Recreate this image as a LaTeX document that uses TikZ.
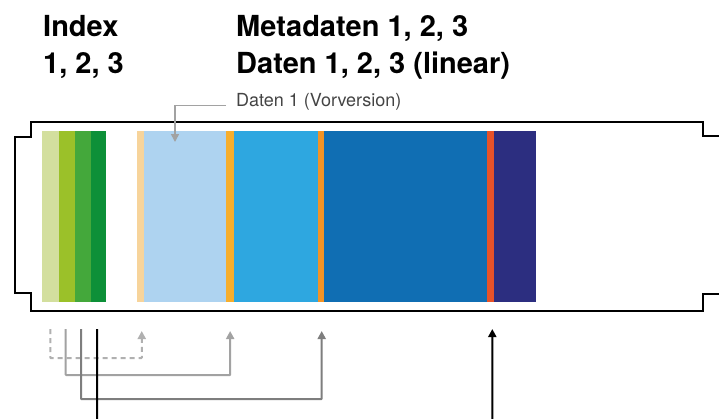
\documentclass[tikz,border=0pt]{standalone}
\usepackage{fontspec}
\setmainfont{TeX Gyre Heros}
\usetikzlibrary{arrows.meta,calc}

\definecolor{gA}{HTML}{D3DF9E}
\definecolor{gB}{HTML}{9BC129}
\definecolor{gC}{HTML}{44A83B}
\definecolor{gD}{HTML}{0D9038}
\definecolor{beige}{HTML}{F7D49B}
\definecolor{lblue}{HTML}{AED3F0}
\definecolor{orA}{HTML}{F6AE2D}
\definecolor{mblue}{HTML}{2EA7E0}
\definecolor{orB}{HTML}{F39325}
\definecolor{dblue}{HTML}{106EB3}
\definecolor{redo}{HTML}{E75229}
\definecolor{navy}{HTML}{2C2E80}
\definecolor{txtgray}{HTML}{444444}
\definecolor{lnA}{HTML}{B0B0B0}
\definecolor{lnB}{HTML}{A2A2A2}
\definecolor{lnC}{HTML}{7E7E7E}

\tikzset{
  seg/.style={anchor=north west, inner sep=0pt, outer sep=0pt, draw=none,
              minimum height=171pt},
  title/.style={anchor=base west, inner sep=0pt, font=\bfseries\fontsize{29}{31}\selectfont},
  note/.style={anchor=base west, inner sep=0pt, text=txtgray, font=\fontsize{18}{20}\selectfont},
  tip/.style={-{Triangle[length=8pt,width=8pt]}},
  link/.style={line width=2pt, tip, rounded corners=0.5pt},
  frame/.style={line width=2.6pt, line join=miter},
}

\begin{document}
\begin{tikzpicture}[x=1pt,y=-1pt]
\useasboundingbox (0,0) rectangle (719,418);
\clip (0,0) rectangle (719,418);

% headings
\node[title] (hIdx) at (43,36.5) {Index};
\node[title] (hIdxN) at (43,73.5) {1, 2, 3};
\node[title] (hMeta) at (236,36) {Metadaten 1, 2, 3};
\node[title] (hDat) at (236,73) {Daten 1, 2, 3 (linear)};

% carrier outline with end notches
\draw[frame] (725,136) -- (703,136) -- (703,122) -- (31,122) -- (31,137)
  -- (15,137) -- (15,293) -- (31,293) -- (31,311) -- (703,311) -- (703,294) -- (725,294);

% index blocks
\node[seg, fill=gA, minimum width=16.7pt] (g1) at (42,131) {};
\node[seg, fill=gB, minimum width=16pt]   (g2) at (58.7,131) {};
\node[seg, fill=gC, minimum width=15.8pt] (g3) at (74.7,131) {};
\node[seg, fill=gD, minimum width=15pt]   (g4) at (90.5,131) {};

% metadata and data blocks
\node[seg, fill=beige, minimum width=7.3pt]  (m0) at (136.7,131) {};
\node[seg, fill=lblue, minimum width=82pt]   (d0) at (144,131) {};
\node[seg, fill=orA,   minimum width=8.3pt]  (m1) at (226,131) {};
\node[seg, fill=mblue, minimum width=83.4pt] (d1) at (234.3,131) {};
\node[seg, fill=orB,   minimum width=6.6pt]  (m2) at (317.7,131) {};
\node[seg, fill=dblue, minimum width=162.4pt](d2) at (324.3,131) {};
\node[seg, fill=redo,  minimum width=7.6pt]  (m3) at (486.7,131) {};
\node[seg, fill=navy,  minimum width=41.4pt] (d3) at (494.3,131) {};

% previous-version label
\node[note] (old) at (236,106.5) {Daten 1 (Vorversion)};
\coordinate (oldtip) at (175,142);
\draw[line width=1.6pt, lnB, tip] ($(old.base west)+(-10,-1)$) -| (oldtip);

% index references
\coordinate (s1) at ($(g1.south)+(0,27)$);
\coordinate (s2) at ($(g2.south)+(-1,27)$);
\coordinate (s3) at ($(g3.south)+(-1.5,27)$);
\coordinate (s4) at ($(g4.south)+(-1,27)$);
\coordinate (t1) at ($(m0.south)+(1.4,29)$);
\coordinate (t2) at ($(m1.south)+(0,29)$);
\coordinate (t3) at ($(m2.south)+(0.7,29)$);
\coordinate (t4) at ($(m3.south)+(1.8,27)$);

\draw[link, lnA, dash pattern=on 5pt off 4pt] (s1) -- ++(0,29) -| (t1);
\draw[link, lnB] (s2) -- ++(0,46) -| (t2);
\draw[link, lnC] (s3) -- ++(0,70) -| (t3);
\draw[link, black] (s4) -- ++(0,110) -| (t4);
\end{tikzpicture}
\end{document}
